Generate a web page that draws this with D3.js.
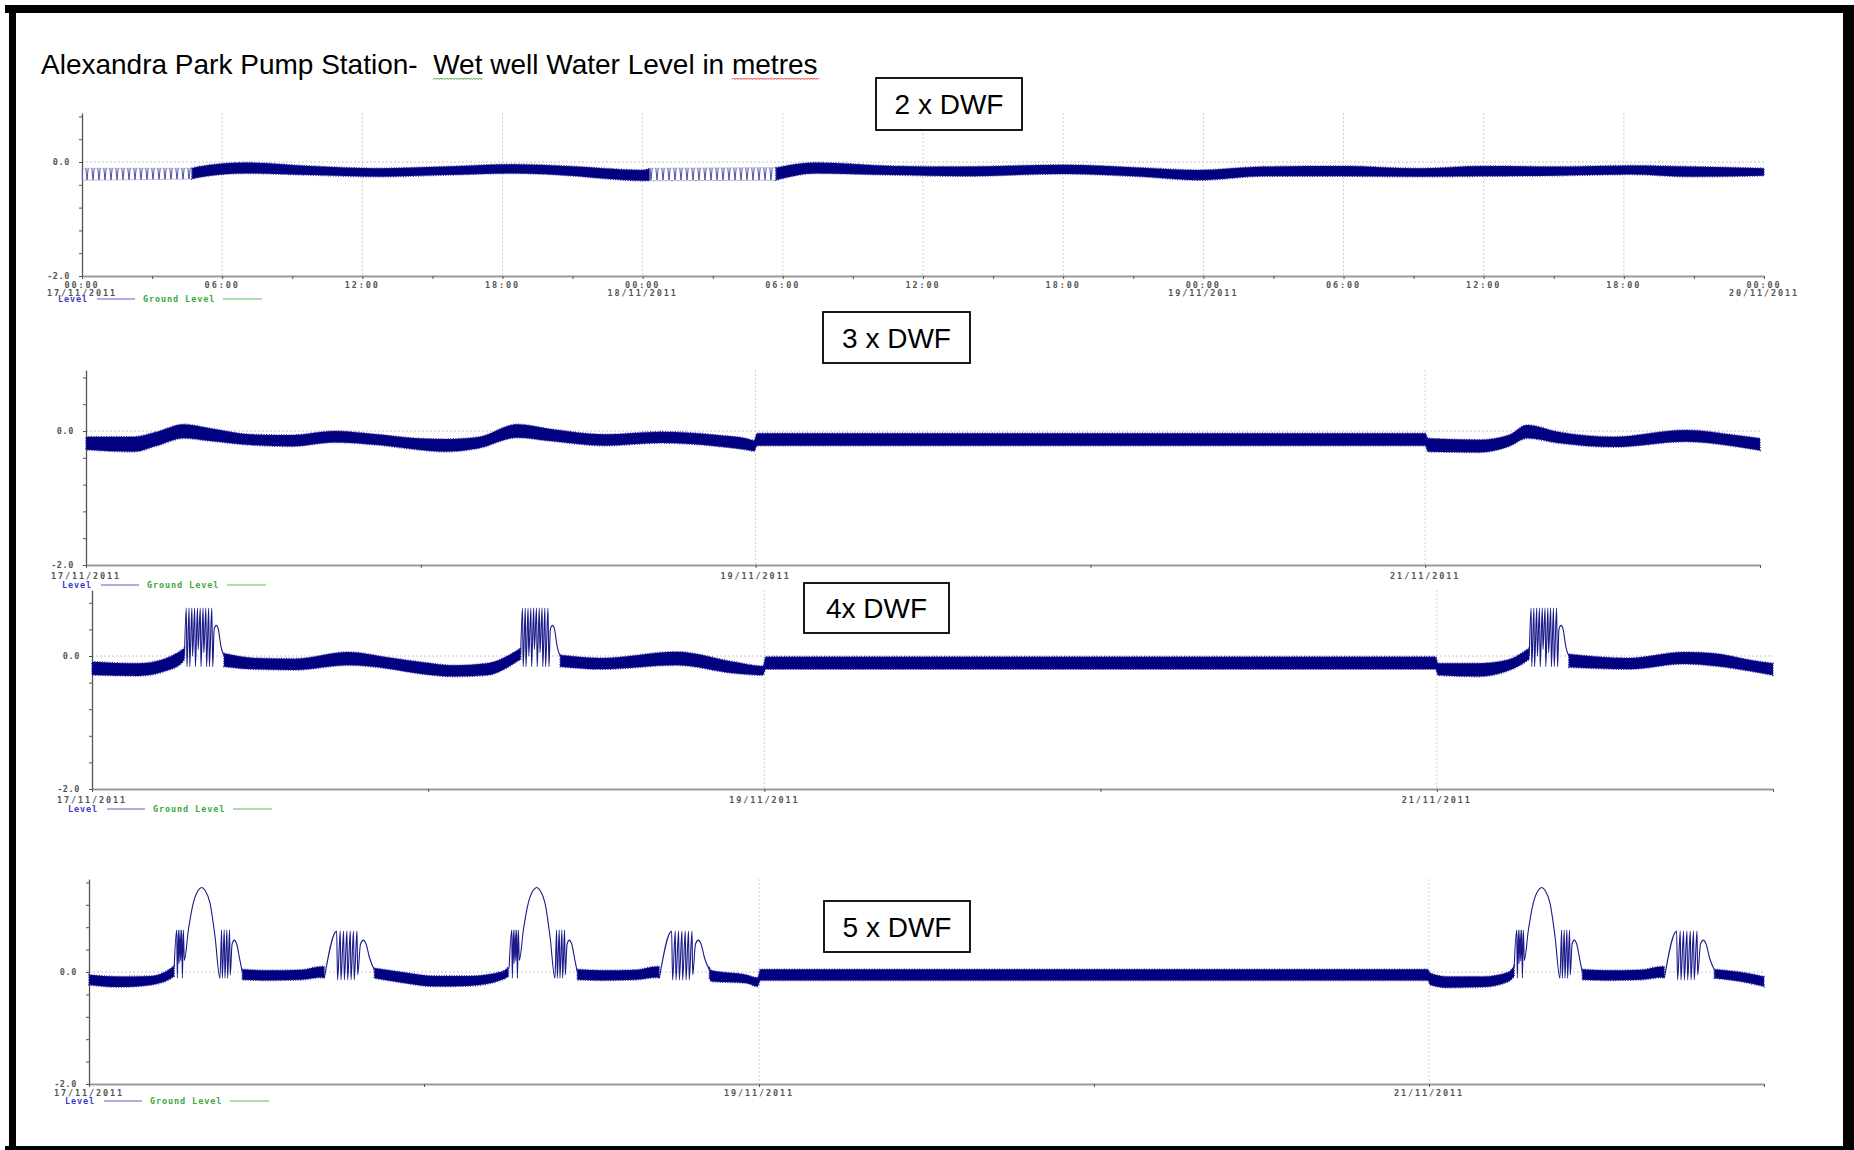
<!DOCTYPE html>
<html>
<head>
<meta charset="utf-8">
<title>Alexandra Park Pump Station - Wet well Water Level</title>
<script src="https://cdn.jsdelivr.net/npm/d3@7"></script>
<style>
  body { margin: 0; background: #fff; }
  svg { display: block; font-family: "Liberation Sans", Arial, sans-serif; }
  .small { font-family: "DejaVu Sans Mono", monospace; font-size: 8.5px; font-weight: bold; letter-spacing: 1.9px; }
  .legend { font-family: "DejaVu Sans Mono", monospace; font-size: 8.5px; font-weight: bold; letter-spacing: 0.9px; }
</style>
</head>
<body>
<svg id="chart" width="1854" height="1150"></svg>
<script>
// ---- data (levels in metres, time in hours from 17/11/2011 00:00) ----

// 2 x DWF : band envelope of the level trace
const dwf2Hours = [0, 4.7, 5.0, 7.0, 9.8, 12.7, 15.5, 18.4, 21.2, 22.3, 24.0, 24.3, 29.7, 31.4, 34.8, 37.6, 42.0, 45.4, 47.8, 50.6, 54.0, 57.2, 60.0, 63.1, 66.3, 68.9, 72.0];
const dwf2High  = [-0.11, -0.11, -0.08, -0.01, -0.07, -0.11, -0.08, -0.04, -0.08, -0.11, -0.14, -0.11, -0.10, -0.01, -0.07, -0.08, -0.05, -0.10, -0.14, -0.08, -0.07, -0.11, -0.07, -0.08, -0.06, -0.08, -0.11];
const dwf2Low   = [-0.32, -0.30, -0.27, -0.20, -0.23, -0.26, -0.23, -0.20, -0.25, -0.29, -0.33, -0.33, -0.32, -0.20, -0.23, -0.25, -0.21, -0.26, -0.32, -0.25, -0.25, -0.26, -0.25, -0.24, -0.22, -0.26, -0.24];
const dwf2Sparse = [[0, 4.7], [24.3, 29.7]];   // stretches where single pump cycles show

// 3 x DWF
const dwf3Hours = [0, 3.4, 5.1, 7.0, 8.9, 11.8, 14.7, 17.8, 20.9, 23.8, 25.7, 28.1, 30.9, 33.3, 37.2, 41.2, 45.3, 47.3, 47.9, 48.1, 96.0, 96.2, 99.9, 102.0, 103.3, 105.5, 109.5, 114.7, 118.2, 120.0];
const dwf3High  = [-0.085, -0.085, -0.01, 0.10, 0.04, -0.05, -0.06, 0.0, -0.05, -0.11, -0.12, -0.09, 0.10, 0.03, -0.05, -0.01, -0.06, -0.11, -0.14, -0.035, -0.035, -0.11, -0.13, -0.06, 0.09, -0.01, -0.085, 0.015, -0.06, -0.11];
const dwf3Low   = [-0.28, -0.31, -0.22, -0.11, -0.15, -0.21, -0.23, -0.17, -0.21, -0.28, -0.31, -0.26, -0.10, -0.15, -0.22, -0.18, -0.23, -0.28, -0.30, -0.22, -0.22, -0.31, -0.32, -0.23, -0.11, -0.18, -0.24, -0.16, -0.23, -0.29];

// 4 x DWF (null = pump cycling, drawn from the spike arrays)
const dwf4Hours = [0, 3.3, 5.2, 6.4, 6.6, 7.5, 9.42, 11.6, 14.5, 18.3, 21.1, 23.5, 25.9, 28.2, 30.15, 30.6, 31.5, 33.42, 36.4, 41.7, 45.8, 47.9, 48.1, 95.9, 96.1, 98.9, 101.0, 102.1, 102.6, 103.5, 105.42, 109.7, 113.6, 115.8, 118.4, 120];
const dwf4High  = [-0.085, -0.11, -0.04, 0.09, 0.12, null, 0.04, -0.03, -0.04, 0.06, -0.02, -0.09, -0.14, -0.11, 0.06, 0.12, null, 0.015, -0.03, 0.065, -0.085, -0.15, -0.01, -0.01, -0.11, -0.11, -0.06, 0.05, 0.12, null, 0.03, -0.03, 0.06, 0.04, -0.06, -0.11];
const dwf4Low   = [-0.285, -0.30, -0.23, -0.11, -0.05, null, -0.16, -0.20, -0.21, -0.14, -0.19, -0.27, -0.31, -0.29, -0.11, -0.05, null, -0.16, -0.20, -0.14, -0.26, -0.29, -0.20, -0.20, -0.29, -0.31, -0.23, -0.12, -0.05, null, -0.17, -0.20, -0.12, -0.15, -0.23, -0.29];
const dwf4SpikeHours = [6.60, 6.73, 6.78, 6.93, 6.98, 7.13, 7.18, 7.33, 7.38, 7.53, 7.58, 7.73, 7.78, 7.93, 7.98, 8.13, 8.18, 8.33, 8.38, 8.55, 8.62, 8.72, 8.87, 9.02, 9.20, 9.42];
const dwf4SpikeLevel = [0.02, 0.72, -0.16, 0.72, -0.16, 0.72, 0.0, 0.72, -0.16, 0.72, 0.1, 0.72, -0.16, 0.72, 0.05, 0.72, -0.16, 0.72, -0.16, 0.72, -0.16, 0.40, 0.46, 0.40, 0.15, 0.0];

// 5 x DWF
const dwf5Hours = [0, 2.1, 4.5, 5.7, 6.1, 8, 10.98, 12.85, 15.2, 16.67, 16.86, 18, 20.44, 22.4, 24.8, 27.2, 29.6, 30.05, 32, 34.98, 36.85, 39.2, 40.67, 40.86, 42, 44.44, 44.6, 47.1, 47.9, 48.1, 95.9, 96.1, 97.3, 99.9, 101.7, 102.1, 104, 106.98, 108.85, 111.2, 112.67, 112.86, 114, 116.44, 118.3, 120];
const dwf5High  = [-0.05, -0.08, -0.07, 0.04, 0.11, null, 0.05, 0.03, 0.04, 0.10, 0.10, null, 0.07, 0.0, -0.07, -0.07, 0.01, 0.09, null, 0.05, 0.03, 0.04, 0.10, 0.10, null, 0.07, 0.03, -0.05, -0.10, 0.05, 0.05, -0.02, -0.08, -0.08, 0.0, 0.11, null, 0.05, 0.03, 0.04, 0.10, 0.10, null, 0.05, 0.0, -0.08];
const dwf5Low   = [-0.23, -0.27, -0.23, -0.14, -0.08, null, -0.14, -0.15, -0.14, -0.10, -0.11, null, -0.11, -0.19, -0.26, -0.25, -0.14, -0.08, null, -0.14, -0.15, -0.14, -0.10, -0.11, null, -0.11, -0.17, -0.20, -0.26, -0.15, -0.15, -0.23, -0.28, -0.27, -0.17, -0.08, null, -0.14, -0.15, -0.14, -0.10, -0.11, null, -0.11, -0.17, -0.26];
const dwf5SpikeHours = [6.10, 6.28, 6.33, 6.40, 6.45, 6.52, 6.57, 6.64, 6.69, 6.76, 6.83, 7.12, 7.47, 7.83, 8.07, 8.31, 8.67, 9.03, 9.38, 9.50, 9.55, 9.69, 9.74, 9.88, 9.93, 10.07, 10.12, 10.25, 10.41, 10.58, 10.82, 10.98, 13, 16.86, 17.74, 17.81, 18.00, 18.05, 18.24, 18.29, 18.48, 18.53, 18.72, 18.77, 18.95, 19.00, 19.20, 19.25, 19.45, 19.65, 19.85, 20.10, 20.44];
const dwf5SpikeLevel = [0.08, 0.75, -0.11, 0.75, 0.15, 0.75, 0.20, 0.75, -0.11, 0.75, 0.21, 0.75, 1.23, 1.46, 1.51, 1.46, 1.23, 0.63, -0.11, 0.75, -0.11, 0.75, -0.11, 0.75, -0.11, 0.75, -0.05, 0.50, 0.57, 0.50, 0.20, 0.0, null, -0.11, 0.73, -0.14, 0.73, -0.14, 0.73, -0.14, 0.73, -0.14, 0.73, -0.14, 0.73, -0.14, 0.73, -0.05, 0.50, 0.57, 0.50, 0.25, 0.04];

// days (hours offset) on which the pump-cycling events happen
const eventDays = [0, 24, 96];

// tick labels
const dwf2TickHours = [0, 6, 12, 18, 24, 30, 36, 42, 48, 54, 60, 66, 72];
const dwf2TickTimes = ['00:00', '06:00', '12:00', '18:00', '00:00', '06:00', '12:00', '18:00', '00:00', '06:00', '12:00', '18:00', '00:00'];
const dwf2TickDates = ['17/11/2011', '', '', '', '18/11/2011', '', '', '', '19/11/2011', '', '', '', '20/11/2011'];
const dayTickHours = [0, 48, 96];
const dayTickDates = ['17/11/2011', '19/11/2011', '21/11/2011'];
const levelTicks = [-2.0, -1.6, -1.2, -0.8, -0.4, 0, 0.4, 0.8, 1.2, 1.6];

const titleText = 'Alexandra Park Pump Station-  Wet well Water Level in metres';

// ---- layout ----
const panels = [
  { name: '2 x DWF', hours: dwf2Hours, high: dwf2High, low: dwf2Low, sparse: dwf2Sparse, span: 72,
    left: 82, right: 1764, zero: 162, bottom: 276, yMax: 0.86,
    minor: d3.range(0, 73, 3), grid: d3.range(6, 72, 6),
    labelHours: dwf2TickHours, labelTop: dwf2TickTimes, labelBottom: dwf2TickDates, labelDy: 12, legendDy: 26,
    box: { x: 876, y: 78, w: 146, h: 52 } },
  { name: '3 x DWF', hours: dwf3Hours, high: dwf3High, low: dwf3Low, span: 120,
    left: 86, right: 1760, zero: 431, bottom: 565, yMax: 0.91,
    minor: d3.range(0, 121, 24), grid: [48, 96],
    labelHours: dayTickHours, labelTop: dayTickDates, labelDy: 14, legendDy: 23,
    box: { x: 823, y: 312, w: 147, h: 51 } },
  { name: '4x DWF', hours: dwf4Hours, high: dwf4High, low: dwf4Low, span: 120,
    spikeHours: dwf4SpikeHours, spikeLevel: dwf4SpikeLevel,
    left: 92, right: 1773, zero: 656, bottom: 789, yMax: 0.99,
    minor: d3.range(0, 121, 24), grid: [48, 96],
    labelHours: dayTickHours, labelTop: dayTickDates, labelDy: 14, legendDy: 23,
    box: { x: 804, y: 583, w: 145, h: 50 } },
  { name: '5 x DWF', hours: dwf5Hours, high: dwf5High, low: dwf5Low, span: 120,
    spikeHours: dwf5SpikeHours, spikeLevel: dwf5SpikeLevel,
    left: 89, right: 1764, zero: 972, bottom: 1084, yMax: 1.66,
    minor: d3.range(0, 121, 24), grid: [48, 96],
    labelHours: dayTickHours, labelTop: dayTickDates, labelDy: 12, legendDy: 20,
    box: { x: 824, y: 901, w: 146, h: 51 } }
];

const NAVY = '#000080';
const svg = d3.select('#chart');

svg.append('rect').attr('width', 1854).attr('height', 1150).attr('fill', '#fff');

// zig-zag texture for the stretches where single cycles are visible
const defs = svg.append('defs');
defs.append('pattern')
  .attr('id', 'zig').attr('patternUnits', 'userSpaceOnUse')
  .attr('width', 6).attr('height', 30)
  .append('path')
  .attr('d', 'M0,0 L3,30 L6,0')
  .attr('fill', 'none').attr('stroke', '#23238f').attr('stroke-width', 0.8);

// title
const title = svg.append('text')
  .attr('x', 41).attr('y', 74)
  .attr('font-size', 28)
  .style('white-space', 'pre')
  .attr('fill', '#000')
  .text(titleText);

// spell-check squiggles under "Wet" and "metres"
function squiggle(word, colour) {
  const node = title.node();
  const i = titleText.indexOf(word);
  const x0 = 41 + node.getSubStringLength(0, i);
  const x1 = x0 + node.getSubStringLength(i, word.length);
  let d = `M${x0},79.5`;
  for (let xx = x0, k = 0; xx < x1; xx += 1.5, k++) d += ` L${xx + 1.5},${k % 2 ? 79.5 : 78}`;
  svg.append('path').attr('d', d).attr('fill', 'none').attr('stroke', colour).attr('stroke-width', 0.9);
}
squiggle('Wet', '#2e9b2e');
squiggle('metres', '#e02020');

panels.forEach(p => {
  const x = d3.scaleLinear().domain([0, p.span]).range([p.left, p.right]);
  const y = d3.scaleLinear().domain([-2, 0]).range([p.bottom, p.zero]);
  const top = y(p.yMax);
  const g = svg.append('g');

  // grid
  g.selectAll('.vgrid').data(p.grid).enter().append('line')
    .attr('x1', d => x(d)).attr('x2', d => x(d))
    .attr('y1', top).attr('y2', p.bottom)
    .attr('stroke', '#cfcfcf').attr('stroke-dasharray', '2,2');
  g.append('line')
    .attr('x1', p.left).attr('x2', p.right)
    .attr('y1', y(0)).attr('y2', y(0))
    .attr('stroke', '#c4c4c4').attr('stroke-dasharray', '2,2');

  // axes
  const yAxis = g.append('g')
    .attr('transform', `translate(${p.left},0)`)
    .call(d3.axisLeft(y.copy().domain([-2, p.yMax]).range([p.bottom, top]))
      .tickValues(levelTicks.filter(v => v <= p.yMax))
      .tickFormat(v => v === 0 ? '0.0' : v === -2 ? '-2.0' : '')
      .tickSize(3).tickSizeOuter(0).tickPadding(9));
  yAxis.select('.domain').attr('stroke', '#555').attr('stroke-width', 1.3);
  yAxis.selectAll('.tick line').attr('stroke', '#555');
  yAxis.selectAll('text').attr('class', 'small').attr('fill', '#555').style('letter-spacing', '0.6px');

  const xAxis = g.append('g')
    .attr('transform', `translate(0,${p.bottom})`)
    .call(d3.axisBottom(x).tickValues(p.minor).tickFormat('').tickSize(3).tickSizeOuter(0));
  xAxis.select('.domain').attr('stroke', '#9a9a9a').attr('stroke-width', 2.2);
  xAxis.selectAll('.tick line').attr('stroke', '#555');

  // x labels
  const lab = g.selectAll('.xlab').data(p.labelHours).enter().append('text')
    .attr('class', 'small').attr('fill', '#555').attr('text-anchor', 'middle');
  lab.append('tspan')
    .attr('x', d => x(d)).attr('y', p.bottom + p.labelDy)
    .text((d, i) => p.labelTop[i]);
  if (p.labelBottom) {
    lab.append('tspan')
      .attr('x', d => x(d)).attr('y', p.bottom + p.labelDy + 7.5)
      .text((d, i) => p.labelBottom[i]);
  }

  // legend
  const ly = p.bottom + p.legendDy;
  g.append('text').attr('class', 'legend').attr('x', p.left - 24).attr('y', ly).attr('fill', '#3a3ac8').text('Level');
  g.append('line').attr('x1', p.left + 15).attr('x2', p.left + 53).attr('y1', ly - 3).attr('y2', ly - 3)
    .attr('stroke', '#6060d0').attr('stroke-width', 1.2);
  g.append('text').attr('class', 'legend').attr('x', p.left + 61).attr('y', ly).attr('fill', '#3aaa3a').text('Ground Level');
  g.append('line').attr('x1', p.left + 141).attr('x2', p.left + 180).attr('y1', ly - 3).attr('y2', ly - 3)
    .attr('stroke', '#5cc05c').attr('stroke-width', 1.2);

  // level band
  const rows = p.hours.map((t, i) => ({ t, hi: p.high[i], lo: p.low[i] }));
  const band = d3.area()
    .defined(d => d.hi != null)
    .curve(d3.curveMonotoneX)
    .x(d => x(d.t)).y0(d => y(d.lo)).y1(d => y(d.hi));
  const sparse = p.sparse || [];
  const solidRanges = [];
  let start = 0;
  sparse.forEach(([a, b]) => { if (a > start) solidRanges.push([start, a]); start = b; });
  if (start < p.span) solidRanges.push([start, p.span]);
  solidRanges.forEach(([a, b]) => {
    g.append('path')
      .datum(rows.filter(d => d.t >= a && d.t <= b))
      .attr('d', band).attr('fill', NAVY)
      .attr('stroke', '#26269a').attr('stroke-width', 1.6).attr('stroke-dasharray', '1,1.5');
  });
  sparse.forEach(([a, b]) => {
    g.append('path')
      .datum(rows.filter(d => d.t >= a && d.t <= b))
      .attr('d', band).attr('fill', 'url(#zig)').attr('stroke', '#8a8ac4').attr('stroke-width', 0.5);
  });

  // pump cycling events
  if (p.spikeHours) {
    const pts = p.spikeHours.map((t, i) => ({ t, v: p.spikeLevel[i] }));
    eventDays.forEach(off => {
      g.append('path')
        .datum(pts)
        .attr('d', d3.line().defined(d => d.v != null).curve(d3.curveMonotoneX)
          .x(d => x(d.t + off)).y(d => y(d.v)))
        .attr('fill', 'none').attr('stroke', '#1a1a8c').attr('stroke-width', 1.1);
    });
  }

  // scenario label box
  svg.append('rect')
    .attr('x', p.box.x).attr('y', p.box.y).attr('width', p.box.w).attr('height', p.box.h)
    .attr('fill', '#fff').attr('stroke', '#000').attr('stroke-width', 1.8);
  svg.append('text')
    .attr('x', p.box.x + p.box.w / 2).attr('y', p.box.y + p.box.h / 2 + 10)
    .attr('text-anchor', 'middle').attr('font-size', 28).attr('fill', '#000')
    .text(p.name);
});

// page frame
const frame = [[5, 5, 1849, 8], [9, 5, 7, 1145], [1843, 5, 11, 1145], [5, 1146, 1849, 4]];
svg.selectAll('.frame').data(frame).enter().append('rect')
  .attr('x', d => d[0]).attr('y', d => d[1]).attr('width', d => d[2]).attr('height', d => d[3])
  .attr('fill', '#000');
</script>
</body>
</html>
